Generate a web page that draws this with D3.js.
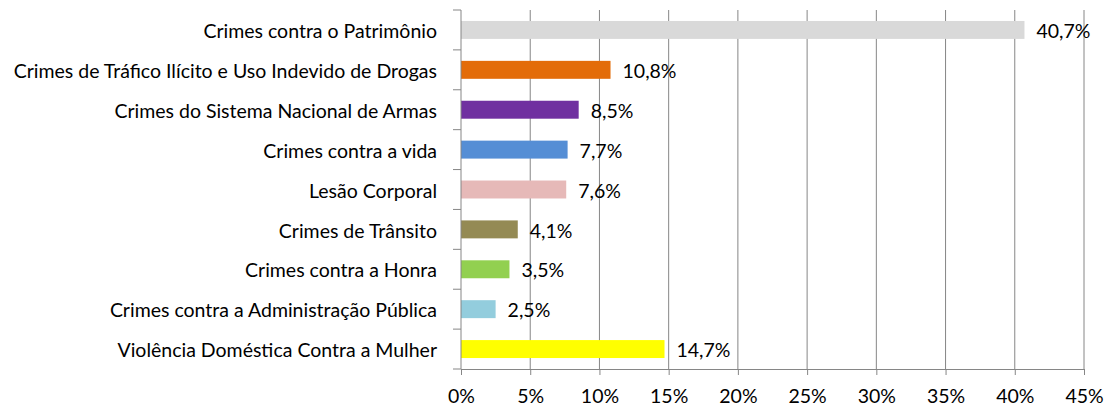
<!DOCTYPE html>
<html>
<head>
<meta charset="utf-8">
<script src="https://cdn.jsdelivr.net/npm/d3@7"></script>
<style>
  html, body { margin: 0; padding: 0; background: #fff; overflow: hidden; }
  svg { display: block; }
  text { font-family: Lato, "Open Sans", sans-serif; fill: #000; }
</style>
</head>
<body>
<svg id="chart"></svg>
<script>
var categories = ["Crimes contra o Patrimônio",
                  "Crimes de Tráfico Ilícito e Uso Indevido de Drogas",
                  "Crimes do Sistema Nacional de Armas",
                  "Crimes contra a vida",
                  "Lesão Corporal",
                  "Crimes de Trânsito",
                  "Crimes contra a Honra",
                  "Crimes contra a Administração Pública",
                  "Violência Doméstica Contra a Mulher"];
var values = [40.7, 10.8, 8.5, 7.7, 7.6, 4.1, 3.5, 2.5, 14.7];
var labels = ["40,7%", "10,8%", "8,5%", "7,7%", "7,6%", "4,1%", "3,5%", "2,5%", "14,7%"];
var colors = ["#d9d9d9", "#e36c09", "#7030a0", "#558ed5", "#e6b9b8",
              "#948a54", "#92d050", "#93cddd", "#ffff00"];
var xTicks = [0, 5, 10, 15, 20, 25, 30, 35, 40, 45];

var width = 1106, height = 407;
var margin = {top: 10, right: 22, bottom: 38, left: 461};
var innerWidth = width - margin.left - margin.right;
var innerHeight = height - margin.top - margin.bottom;
var fontSize = "19.5px";

var svg = d3.select("#chart")
    .attr("width", width)
    .attr("height", height);

var g = svg.append("g")
    .attr("transform", "translate(" + margin.left + "," + margin.top + ")");

var xScale = d3.scaleLinear().domain([0, 45]).range([0, innerWidth]);
var yScale = d3.scaleBand().domain(categories).range([0, innerHeight]).paddingInner(0.55).paddingOuter(0.275);
var yBand = d3.scaleBand().domain(categories).range([0, innerHeight]);

// gridlines
g.append("g")
  .selectAll("line")
  .data(xTicks.slice(1))
  .enter().append("line")
    .attr("x1", function(d){ return xScale(d); })
    .attr("x2", function(d){ return xScale(d); })
    .attr("y1", 0)
    .attr("y2", innerHeight)
    .attr("stroke", "#868686")
    .attr("stroke-width", 1);

// bars
g.selectAll(".bar")
  .data(values)
  .enter().append("rect")
    .attr("class", "bar")
    .attr("x", 0)
    .attr("y", function(d, i){ return yScale(categories[i]); })
    .attr("width", function(d){ return xScale(d); })
    .attr("height", yScale.bandwidth())
    .attr("fill", function(d, i){ return colors[i]; });

// value labels
g.selectAll(".val")
  .data(values)
  .enter().append("text")
    .attr("class", "val")
    .attr("x", function(d){ return xScale(d) + 12; })
    .attr("y", function(d, i){ return yBand(categories[i]) + yBand.bandwidth() / 2; })
    .attr("dy", "0.42em")
    .style("font-size", fontSize)
    .text(function(d, i){ return labels[i]; });

// x axis
var xAxis = g.append("g")
  .attr("transform", "translate(0," + innerHeight + ")")
  .call(d3.axisBottom(xScale).tickValues(xTicks).tickSize(6).tickSizeOuter(0)
        .tickFormat(function(d){ return d + "%"; }));
xAxis.select(".domain").attr("stroke", "#868686");
xAxis.selectAll(".tick line").attr("stroke", "#868686");
xAxis.selectAll(".tick text")
  .attr("y", 34)
  .attr("dy", "0")
  .style("font-size", fontSize)
  .attr("fill", "#000");

// y axis: ticks at category boundaries
var boundaries = categories.map(function(c){ return yBand(c); }).concat([innerHeight]);
var yAxis = g.append("g");
yAxis.append("line")
  .attr("x1", 0).attr("x2", 0)
  .attr("y1", 0).attr("y2", innerHeight)
  .attr("stroke", "#868686");
yAxis.selectAll(".ytick")
  .data(boundaries)
  .enter().append("line")
    .attr("class", "ytick")
    .attr("x1", -8).attr("x2", 0)
    .attr("y1", function(d){ return d; })
    .attr("y2", function(d){ return d; })
    .attr("stroke", "#868686");
yAxis.selectAll(".ylabel")
  .data(categories)
  .enter().append("text")
    .attr("class", "ylabel")
    .attr("x", -24)
    .attr("y", function(d){ return yBand(d) + yBand.bandwidth() / 2; })
    .attr("dy", "0.42em")
    .attr("text-anchor", "end")
    .style("font-size", fontSize)
    .text(function(d){ return d; });
</script>
</body>
</html>
